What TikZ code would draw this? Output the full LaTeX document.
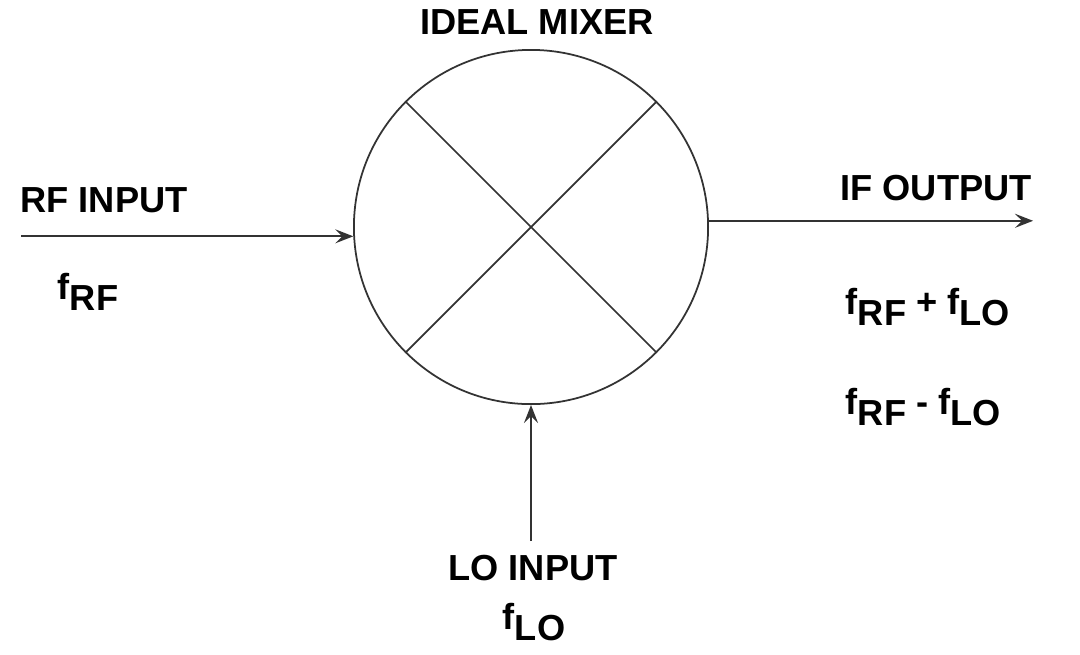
\documentclass[tikz,border=0pt]{standalone}
\usepackage{fontspec}
\setmainfont{Liberation Sans}
\usetikzlibrary{arrows.meta,positioning}
\newcommand{\subtxt}[1]{\raisebox{-0.3em}{#1}}
\tikzstyle{lbl} = [inner sep=0pt, font=\fontsize{10.3}{12}\selectfont\bfseries]
\tikzstyle{arrow} = [-{Stealth[length=1.8mm, width=1.4mm, inset=0.7mm]}, line width=0.5pt]

\begin{document}
\begin{tikzpicture}[x=0.01cm, y=-0.01cm, line width=0.5pt, draw=black!80]
      \useasboundingbox (0,0) rectangle (1080,654);
      \node[circle, draw, minimum size=3.54cm, inner sep=0pt] (mixer) at (531,227) {};
      \draw (mixer.135) -- (mixer.-45);
      \draw (mixer.45)  -- (mixer.-135);

      \coordinate (rfin)  at ([xshift=-3.32cm]mixer.183);
      \coordinate (ifout) at ([xshift=3.24cm]mixer.2);
      \coordinate (loin)  at ([yshift=-1.36cm]mixer.south);

      \draw [arrow] (rfin)    -- (mixer.183);
      \draw [arrow] (mixer.2) -- (ifout);
      \draw [arrow] (loin)    -- (mixer.south);

      \node[lbl] (title)  at (537,22)  {IDEAL MIXER};
      \node[lbl] (rflbl)  at (104,200) {RF INPUT};
      \node[lbl, anchor=west] (frf) at (57,292) {f\subtxt{RF}};
      \node[lbl] (iflbl)  at (936,188) {IF OUTPUT};
      \node[lbl, anchor=west] (fsum)  at (845,307) {f\subtxt{RF} + f\subtxt{LO}};
      \node[lbl, anchor=west] (fdiff) at (845,407) {f\subtxt{RF} - f\subtxt{LO}};
      \node[lbl] (lolbl)  at (533,568) {LO INPUT};
      \node[lbl] (flo)    at (534,622) {f\subtxt{LO}};
    \end{tikzpicture}
\end{document}
